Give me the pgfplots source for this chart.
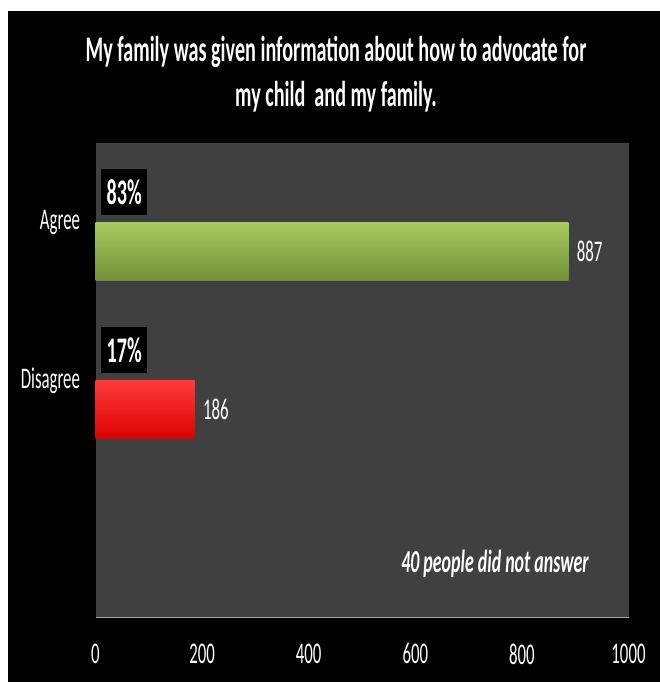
\documentclass[border=0pt]{standalone}
\usepackage{pgfplots}
\pgfplotsset{compat=1.18}
\usepackage{fontspec}
\setmainfont{Carlito}[FakeStretch=0.56]
\definecolor{plotbg}{HTML}{404040}
\definecolor{gtop}{HTML}{A8CB62}
\definecolor{gmid}{HTML}{8DB043}
\definecolor{gbot}{HTML}{718F36}
\definecolor{rtop}{HTML}{FF3A3A}
\definecolor{rmid}{HTML}{FF0000}
\definecolor{rbot}{HTML}{DD0000}
\begin{document}
\begin{tikzpicture}
\useasboundingbox (0,0) rectangle (660pt,682pt);
\fill[white] (0,0) rectangle (660pt,682pt);
\fill[black] (8pt,0) rectangle (660pt,671pt);
\node[anchor=base, text=white, font=\fontsize{36}{40}\selectfont\bfseries, inner sep=0pt] at (336pt,620pt) {My family was given information about how to advocate for};
\node[anchor=base, text=white, font=\fontsize{36}{40}\selectfont\bfseries, inner sep=0pt] at (336pt,575pt) {my child\ \ and my family.};
\begin{axis}[
  at={(95.5pt,64pt)}, anchor=south west, scale only axis,
  width=533pt, height=475pt,
  xmin=0, xmax=1000, ymin=0, ymax=3,
  axis background/.style={fill=plotbg},
  axis x line*=bottom, axis y line*=left,
  x axis line style={draw=gray!70, line width=1pt},
  y axis line style={draw=black, line width=1pt},
  xtick={0,200,...,1000}, ytick={1.5,2.5}, yticklabels={Disagree,Agree},
  major tick length=0pt,
  tick label style={text=white, font=\fontsize{30}{34}\selectfont},
  /pgf/number format/assume math mode=true,
  /pgf/number format/1000 sep={},
  xticklabel style={yshift=-22pt},
  yticklabel style={xshift=-12pt},
  bar width=58pt, bar shift=0pt,
  clip=false,
]
\addplot[xbar, draw=none, top color=gtop, middle color=gmid, bottom color=gbot,
  nodes near coords, point meta=explicit symbolic,
  nodes near coords style={text=white, font=\fontsize{30}{34}\selectfont, anchor=west, xshift=5pt}]
  coordinates {(887,2.316) [887]};
\addplot[xbar, draw=none, top color=rtop, middle color=rmid, bottom color=rbot,
  nodes near coords, point meta=explicit symbolic,
  nodes near coords style={text=white, font=\fontsize{30}{34}\selectfont, anchor=west, xshift=5pt}]
  coordinates {(186,1.316) [186]};
\addplot[draw=none, mark=none, nodes near coords, point meta=explicit symbolic,
  nodes near coords style={anchor=west, fill=black, text=white, font=\fontsize{36}{40}\selectfont\bfseries, minimum height=46pt, minimum width=46pt, inner xsep=3pt, xshift=5.5pt}]
  coordinates {(0,2.69) [83\%] (0,1.69) [17\%]};
\end{axis}
\node[anchor=base, text=white, font=\fontsize{32}{36}\selectfont\bfseries\itshape, inner sep=0pt] at (495pt,109pt) {40 people did not answer};
\end{tikzpicture}
\end{document}
